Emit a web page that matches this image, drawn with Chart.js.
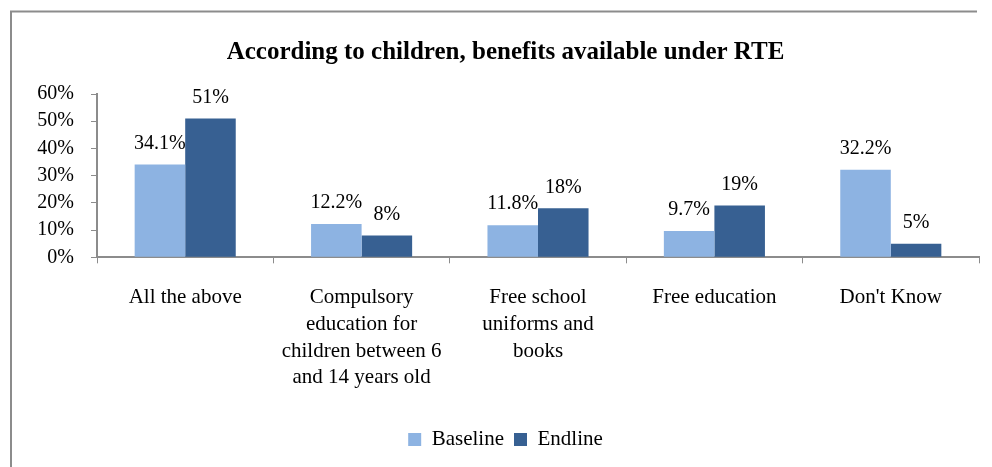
<!DOCTYPE html>
<html>
<head>
<meta charset="utf-8">
<script src="https://cdn.jsdelivr.net/npm/chart.js@4/dist/chart.umd.min.js"></script>
<style>
  html, body { margin: 0; padding: 0; background: #fff; }
  #wrap { position: relative; width: 992px; height: 467px; }
</style>
</head>
<body>
<div id="wrap"><canvas id="chartRte"></canvas></div>
<script>
const categories = [
    ['All the above'],
    ['Compulsory', 'education for', 'children between 6', 'and 14 years old'],
    ['Free school', 'uniforms and', 'books'],
    ['Free education'],
    ["Don't Know"]
];
const baseline = [34.1, 12.2, 11.8, 9.7, 32.2];
const endline = [51, 8, 18, 19, 5];
const yTicks = [0, 10, 20, 30, 40, 50, 60];

const serif = '"Liberation Serif", "Times New Roman", serif';
const axisGray = '#8c8c8c';
const leftPad = 32;

// gray frame on the left and top edges
const frame = {
    id: 'frame',
    beforeDraw(chart) {
        const ctx = chart.ctx;
        ctx.save();
        ctx.strokeStyle = axisGray;
        ctx.lineWidth = 2;
        ctx.beginPath();
        ctx.moveTo(11, 467);
        ctx.lineTo(11, 11.5);
        ctx.lineTo(977, 11.5);
        ctx.stroke();
        ctx.restore();
    }
};

// value text over each bar
const valueLabels = {
    id: 'valueLabels',
    afterDatasetsDraw(chart) {
        const ctx = chart.ctx;
        ctx.save();
        ctx.font = '20px ' + serif;
        ctx.fillStyle = '#000';
        ctx.textAlign = 'center';
        ctx.textBaseline = 'middle';
        chart.data.datasets.forEach((ds, i) => {
            chart.getDatasetMeta(i).data.forEach((bar, j) => {
                ctx.fillText(ds.data[j] + '%', bar.x, bar.y - 21);
            });
        });
        ctx.restore();
    }
};

new Chart(document.getElementById('chartRte'), {
    type: 'bar',
    data: {
        labels: categories,
        datasets: [
            { label: 'Baseline', data: baseline, backgroundColor: '#8db3e2', borderWidth: 0 },
            { label: 'Endline', data: endline, backgroundColor: '#376092', borderWidth: 0 }
        ]
    },
    options: {
        responsive: true,
        maintainAspectRatio: false,
        animation: false,
        layout: { padding: { top: 38, right: 13, bottom: 7, left: leftPad } },
        datasets: { bar: { categoryPercentage: 0.573, barPercentage: 1 } },
        plugins: {
            title: {
                display: true,
                text: 'According to children, benefits available under RTE',
                color: '#000',
                font: { family: serif, size: 25, weight: 'bold' },
                padding: { top: 0, bottom: 26 }
            },
            legend: {
                position: 'bottom',
                labels: {
                    color: '#000',
                    boxWidth: 13,
                    boxHeight: 13,
                    padding: 10,
                    font: { family: serif, size: 21 }
                }
            },
            tooltip: { enabled: false }
        },
        scales: {
            x: {
                grid: { drawOnChartArea: false, color: axisGray, tickLength: 6 },
                border: { color: axisGray, width: 2 },
                afterFit(scale) {
                    scale.height += 7;
                },
                ticks: {
                    color: '#000',
                    maxRotation: 0,
                    autoSkip: false,
                    padding: 21,
                    font: { family: serif, size: 21, lineHeight: 1.27 }
                }
            },
            y: {
                min: 0,
                max: 60,
                afterBuildTicks(scale) {
                    scale.ticks = yTicks.map(v => ({ value: v }));
                },
                afterFit(scale) {
                    scale.width = 97 - leftPad;
                },
                grid: { drawOnChartArea: false, color: axisGray, tickLength: 6 },
                border: { color: axisGray, width: 2 },
                ticks: {
                    color: '#000',
                    autoSkip: false,
                    padding: 17,
                    font: { family: serif, size: 20 },
                    callback: v => v + '%'
                }
            }
        }
    },
    plugins: [frame, valueLabels]
});
</script>
</body>
</html>
